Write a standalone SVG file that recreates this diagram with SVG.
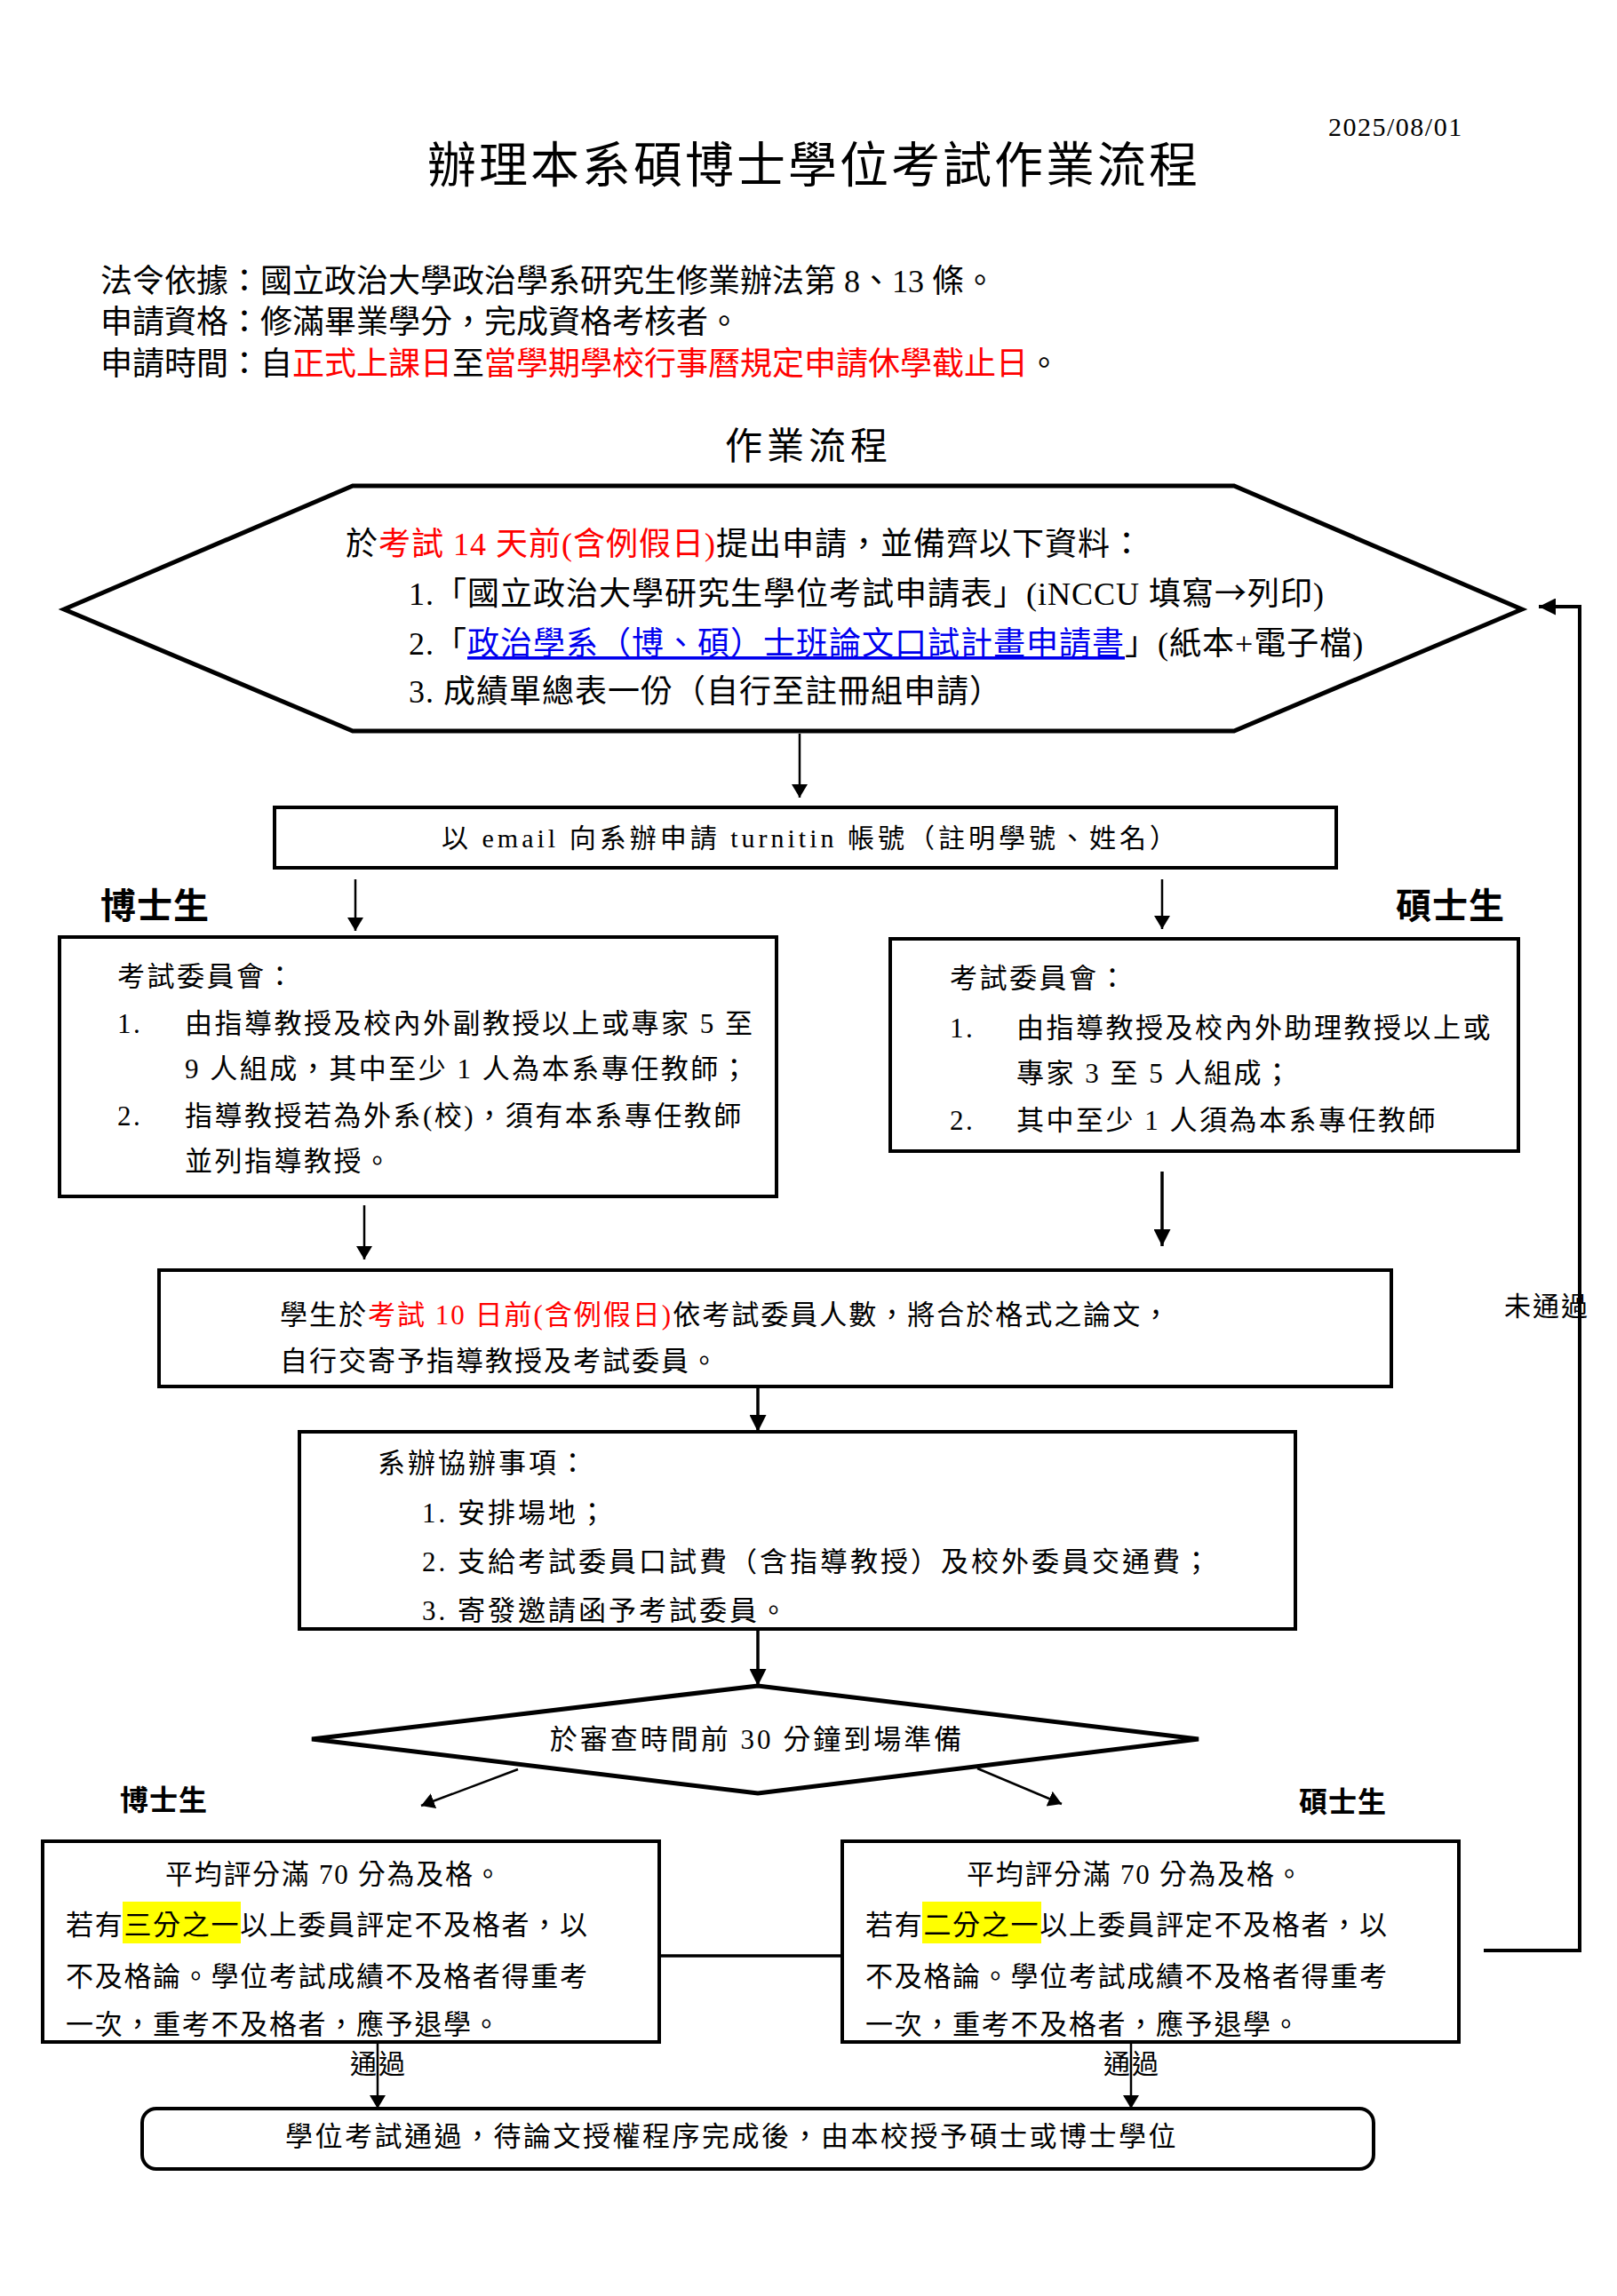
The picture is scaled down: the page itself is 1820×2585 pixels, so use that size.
<svg xmlns="http://www.w3.org/2000/svg" width="1820" height="2585" viewBox="0 0 1820 2585">
<style>
text{font-family:'Liberation Serif','Noto Sans CJK TC',serif;fill:#000}
.h{font-size:36px}
.hx{font-size:36px;letter-spacing:1px}
.c{font-size:31px;letter-spacing:2.5px}
.b3{font-size:31px;letter-spacing:2px}
.b4{font-size:31px;letter-spacing:3px}
.bt{font-size:31px;letter-spacing:1.7px}
.red{fill:#ff0000}
.lnk{fill:#0000ee;text-decoration:underline}
.cjk{font-family:'Noto Sans CJK TC',sans-serif}
.box{fill:#fff;stroke:#000;stroke-width:4}
.thick{fill:#fff;stroke:#000;stroke-width:5;stroke-linejoin:miter}
.ln{fill:none;stroke:#000;stroke-width:2.5}
.ln3{fill:none;stroke:#000;stroke-width:3.5}
.lbl{font-weight:bold}
</style>
<defs>
<marker id="ah" markerUnits="userSpaceOnUse" viewBox="0 0 15 18" markerWidth="15" markerHeight="18" refX="15" refY="9" orient="auto"><path d="M0,0 L15,9 L0,18 z" fill="#000"/></marker>
<marker id="ahb" markerUnits="userSpaceOnUse" viewBox="0 0 19 19" markerWidth="19" markerHeight="19" refX="19" refY="9.5" orient="auto"><path d="M0,0 L19,9.5 L0,19 z" fill="#000"/></marker>
</defs>

<g id="header">
<text x="1495" y="153" style="font-size:30px;letter-spacing:1.5px">2025/08/01</text>
<text x="481" y="205" style="font-size:55px;letter-spacing:3px">辦理本系碩博士學位考試作業流程</text>
<text class="h" x="113" y="329">法令依據：國立政治大學政治學系研究生修業辦法第 8、13 條。</text>
<text class="h" x="113" y="375">申請資格：修滿畢業學分，完成資格考核者。</text>
<text class="h" x="113" y="422">申請時間：自<tspan class="red">正式上課日</tspan>至<tspan class="red">當學期學校行事曆規定申請休學截止日</tspan>。</text>
<text x="816" y="517" style="font-size:42px;letter-spacing:5px">作業流程</text>
</g>

<g id="connectors">
<line class="ln" x1="900" y1="826" x2="900" y2="898" marker-end="url(#ah)"/>
<line class="ln" x1="400" y1="990" x2="400" y2="1048" marker-end="url(#ah)"/>
<line class="ln" x1="1308" y1="990" x2="1308" y2="1046" marker-end="url(#ah)"/>
<line class="ln" x1="410" y1="1357" x2="410" y2="1418" marker-end="url(#ah)"/>
<line class="ln3" x1="1308" y1="1319" x2="1308" y2="1403" marker-end="url(#ahb)"/>
<line class="ln3" x1="853" y1="1563" x2="853" y2="1612" marker-end="url(#ahb)"/>
<line class="ln3" x1="853" y1="1835" x2="853" y2="1898" marker-end="url(#ahb)"/>
<line class="ln" x1="583" y1="1992" x2="474" y2="2033" marker-end="url(#ah)"/>
<line class="ln" x1="1100" y1="1991" x2="1195" y2="2031" marker-end="url(#ah)"/>
<line class="ln" x1="425" y1="2300" x2="425" y2="2374" marker-end="url(#ah)"/>
<line class="ln" x1="1273" y1="2300" x2="1273" y2="2374" marker-end="url(#ah)"/>
<line class="ln3" x1="742" y1="2202" x2="948" y2="2202"/>
<polyline fill="none" stroke="#000" stroke-width="4" points="1670,2196 1778,2196 1778,683 1732,683" marker-end="url(#ahb)"/>
<text x="1693" y="1481" style="font-size:30px;letter-spacing:2px">未通過</text>
<text x="426" y="2334" text-anchor="middle" style="font-size:30px;letter-spacing:2px">通過</text>
<text x="1274" y="2334" text-anchor="middle" style="font-size:30px;letter-spacing:2px">通過</text>
</g>

<g id="n-apply">
<polygon class="thick" points="72,686 397,547 1389,547 1713,686 1389,823 397,823"/>
<text class="hx" x="389" y="625">於<tspan class="red">考試 14 天前(含例假日)</tspan>提出申請，並備齊以下資料：</text>
<text class="hx" x="460" y="681">1.「國立政治大學研究生學位考試申請表」(iNCCU 填寫<tspan class="cjk">→</tspan>列印)</text>
<text class="hx" x="460" y="737">2.「<tspan class="lnk">政治學系（博、碩）士班論文口試計畫申請書</tspan>」(紙本+電子檔)</text>
<text class="hx" x="460" y="791">3. 成績單總表一份（自行至註冊組申請）</text>
</g>

<g id="n-turnitin">
<rect class="box" x="309" y="909" width="1195" height="68"/>
<text x="497" y="954" style="font-size:30px;letter-spacing:4px">以 email 向系辦申請 turnitin 帳號（註明學號、姓名）</text>
</g>

<g id="n-labels-top">
<text class="lbl" x="113" y="1034" style="font-size:40px;letter-spacing:1px">博士生</text>
<text class="lbl" x="1571" y="1034" style="font-size:40px;letter-spacing:1px">碩士生</text>
</g>

<g id="n-phd-committee">
<rect class="box" x="67" y="1055" width="807" height="292"/>
<text class="c" x="132" y="1110">考試委員會：</text>
<text class="c" x="132" y="1163">1.</text>
<text class="c" x="208" y="1163">由指導教授及校內外副教授以上或專家 5 至</text>
<text class="c" x="208" y="1214">9 人組成，其中至少 1 人為本系專任教師；</text>
<text class="c" x="132" y="1267">2.</text>
<text class="c" x="208" y="1267">指導教授若為外系(校)，須有本系專任教師</text>
<text class="c" x="208" y="1318">並列指導教授。</text>
</g>

<g id="n-ma-committee">
<rect class="box" x="1002" y="1057" width="707" height="239"/>
<text class="c" x="1069" y="1112">考試委員會：</text>
<text class="c" x="1069" y="1168">1.</text>
<text class="c" x="1144" y="1168">由指導教授及校內外助理教授以上或</text>
<text class="c" x="1144" y="1219">專家 3 至 5 人組成；</text>
<text class="c" x="1069" y="1272">2.</text>
<text class="c" x="1144" y="1272">其中至少 1 人須為本系專任教師</text>
</g>

<g id="n-send-thesis">
<rect class="box" x="179" y="1430" width="1387" height="131"/>
<text class="b3" x="315" y="1491">學生於<tspan class="red">考試 10 日前(含例假日)</tspan>依考試委員人數，將合於格式之論文，</text>
<text class="b3" x="315" y="1543">自行交寄予指導教授及考試委員。</text>
</g>

<g id="n-office">
<rect class="box" x="337" y="1612" width="1121" height="222"/>
<text class="b4" x="425" y="1658">系辦協辦事項：</text>
<text class="b4" x="475" y="1714">1. 安排場地；</text>
<text class="b4" x="475" y="1769">2. 支給考試委員口試費（含指導教授）及校外委員交通費；</text>
<text class="b4" x="475" y="1824">3. 寄發邀請函予考試委員。</text>
</g>

<g id="n-arrive">
<polygon class="thick" points="351,1958 853,1898 1349,1958 853,2019"/>
<text x="852" y="1969" text-anchor="middle" style="font-size:31px;letter-spacing:3px">於審查時間前 30 分鐘到場準備</text>
</g>

<g id="n-labels-bottom">
<text class="lbl" x="135" y="2038" style="font-size:32px;letter-spacing:1px">博士生</text>
<text class="lbl" x="1462" y="2040" style="font-size:32px;letter-spacing:1px">碩士生</text>
</g>

<g id="n-phd-result">
<rect class="box" x="48" y="2073" width="694" height="226"/>
<rect x="138" y="2141" width="133" height="47" fill="#ffff00"/>
<text class="bt" x="186" y="2121">平均評分滿 70 分為及格。</text>
<text class="bt" x="74" y="2178">若有三分之一以上委員評定不及格者，以</text>
<text class="bt" x="74" y="2236">不及格論。學位考試成績不及格者得重考</text>
<text class="bt" x="74" y="2290">一次，重考不及格者，應予退學。</text>
</g>

<g id="n-ma-result">
<rect class="box" x="948" y="2073" width="694" height="226"/>
<rect x="1038" y="2141" width="134" height="47" fill="#ffff00"/>
<text class="bt" x="1088" y="2121">平均評分滿 70 分為及格。</text>
<text class="bt" x="974" y="2178">若有二分之一以上委員評定不及格者，以</text>
<text class="bt" x="974" y="2236">不及格論。學位考試成績不及格者得重考</text>
<text class="bt" x="974" y="2290">一次，重考不及格者，應予退學。</text>
</g>

<g id="n-degree">
<rect class="box" x="160" y="2374" width="1386" height="68" rx="16" ry="16"/>
<text x="321" y="2416" style="font-size:31px;letter-spacing:2.5px">學位考試通過，待論文授權程序完成後，由本校授予碩士或博士學位</text>
</g>
</svg>
